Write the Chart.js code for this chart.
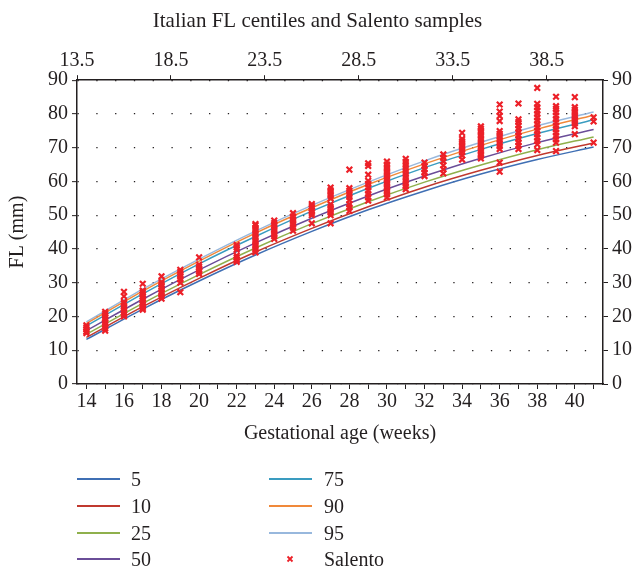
<!DOCTYPE html>
<html><head><meta charset="utf-8">
<script src="https://cdn.jsdelivr.net/npm/chart.js@4.4.1/dist/chart.umd.min.js"></script>
<style>
html,body{margin:0;padding:0;background:#fff;}
#wrap{position:relative;width:635px;height:567px;font-family:"Liberation Serif","Times New Roman",serif;color:#231f20;}
#c{position:absolute;left:0;top:0;}
.lt{position:absolute;font-size:20px;line-height:24px;height:24px;white-space:nowrap;}
.ln{position:absolute;height:0;border-top-style:solid;border-top-width:2px;}
.mk{position:absolute;}
</style></head><body>
<div id="wrap"><canvas id="c" width="635" height="567"></canvas><div id="legend"></div></div>
<script>
// ---- data ----
const centileWeeks = [14, 17, 20, 23, 26, 29, 32, 35, 38, 41];
const p5  = [13.2, 22.2, 30.5, 38.2, 45.2, 51.6, 57.2, 62.2, 66.5, 70.2];
const p10 = [13.8, 22.9, 31.3, 39.1, 46.1, 52.5, 58.3, 63.3, 67.7, 71.4];
const p25 = [14.7, 23.9, 32.4, 40.3, 47.5, 54.0, 59.8, 64.9, 69.4, 73.2];
const p50 = [15.8, 25.1, 33.8, 41.8, 49.1, 55.7, 61.6, 66.9, 71.5, 75.4];
const p75 = [17.2, 26.7, 35.6, 43.7, 51.2, 58.0, 64.1, 69.5, 74.2, 78.3];
const p90 = [17.9, 27.5, 36.4, 44.7, 52.2, 59.1, 65.2, 70.7, 75.5, 79.6];
const p95 = [18.4, 28.1, 37.0, 45.3, 52.9, 59.8, 66.1, 71.6, 76.5, 80.6];

const centileLabels = ['5', '10', '25', '50', '75', '90', '95'];
const centileColors = ['#3f6fb4', '#c0392f', '#8fb04c', '#6a4d98', '#3a9cc0', '#f0893a', '#98b8dd'];

const salentoWeeks = [14, 15, 16, 17, 18, 19, 20, 22, 23, 24, 25, 26, 27, 28, 29, 30, 31, 32, 33, 34, 35, 36, 37, 38, 39, 40, 41];
const salentoFL = [
  [15.1, 15.6, 16.2, 16.8, 17.4],
  [15.8, 16.5, 17.5, 18.2, 19.0, 19.6, 20.2, 20.8, 21.4],
  [20.0, 20.6, 21.2, 21.8, 22.5, 23.1, 23.8, 24.3, 26.0, 27.3],
  [22.0, 22.5, 23.0, 23.6, 24.2, 24.8, 25.4, 26.0, 26.6, 27.2, 27.7, 29.7],
  [25.3, 26.0, 26.8, 27.5, 28.3, 29.0, 29.6, 30.2, 31.9],
  [27.2, 30.0, 31.0, 31.8, 32.5, 33.2, 33.8],
  [32.6, 33.3, 34.0, 34.7, 35.4, 37.5],
  [36.2, 36.8, 37.4, 38.0, 39.8, 40.5, 41.2],
  [39.0, 39.8, 40.6, 41.4, 42.2, 43.0, 43.8, 44.6, 45.4, 46.2, 47.0, 47.4],
  [43.0, 43.8, 44.6, 45.4, 46.2, 47.0, 47.7, 48.4],
  [45.4, 46.3, 47.2, 48.0, 48.8, 49.6, 50.6],
  [47.6, 50.0, 50.7, 51.4, 52.1, 52.7, 53.3],
  [47.6, 50.0, 50.8, 51.6, 52.4, 53.2, 55.0, 55.8, 56.6, 57.4, 58.2],
  [51.3, 52.3, 53.2, 54.5, 55.4, 56.3, 57.2, 58.0, 63.5],
  [54.3, 55.3, 56.3, 57.3, 58.3, 59.3, 60.2, 62.0, 64.6, 65.4],
  [55.3, 56.2, 57.0, 57.8, 58.6, 59.4, 60.2, 61.0, 61.8, 62.6, 63.4, 64.2, 65.0, 65.9],
  [57.7, 58.6, 59.5, 60.4, 61.3, 62.2, 63.1, 64.0, 64.9, 65.8, 66.7],
  [61.6, 62.6, 63.6, 64.6, 65.6],
  [62.4, 63.6, 64.8, 66.0, 67.0, 68.0],
  [66.5, 67.7, 68.7, 69.5, 70.3, 71.1, 71.9, 72.6, 74.4],
  [66.8, 67.6, 68.4, 69.2, 70.0, 70.8, 71.6, 72.4, 73.2, 74.0, 74.8, 75.6, 76.3],
  [62.9, 65.6, 69.6, 70.5, 71.4, 72.3, 73.2, 74.1, 74.9, 77.9, 79.4, 80.7, 82.8],
  [69.6, 70.6, 71.6, 72.6, 73.6, 74.6, 75.6, 76.6, 77.6, 78.4, 83.1],
  [69.3, 71.0, 72.0, 73.0, 74.0, 75.0, 76.0, 77.0, 78.0, 79.0, 80.0, 81.0, 82.0, 83.0, 87.7],
  [69.0, 71.5, 72.5, 73.5, 74.5, 75.5, 76.5, 77.5, 78.5, 79.5, 80.5, 81.5, 82.3, 85.1],
  [74.0, 76.4, 77.2, 78.0, 78.8, 79.6, 80.4, 81.2, 82.0, 85.0],
  [71.5, 77.8, 79.0]
];

const bottomTicks = [14, 15, 16, 17, 18, 19, 20, 21, 22, 23, 24, 25, 26, 27, 28, 29, 30, 31, 32, 33, 34, 35, 36, 37, 38, 39, 40, 41];
const topTicks = [13.5, 18.5, 23.5, 28.5, 33.5, 38.5];
const yTicks = [0, 10, 20, 30, 40, 50, 60, 70, 80, 90];

// ---- chart ----
const INK = '#231f20';
const FAMILY = '"Liberation Serif", "Times New Roman", serif';
Chart.defaults.font.family = FAMILY;
Chart.defaults.font.size = 20;
Chart.defaults.color = INK;
const FONT = {family: FAMILY, size: 20, weight: 'normal'};
const centileSeries = [p5, p10, p25, p50, p75, p90, p95];

const datasets = [{
  label: 'Salento',
  data: salentoWeeks.flatMap((w, i) => salentoFL[i].map(v => ({x: w, y: v}))),
  showLine: false,
  pointStyle: 'crossRot',
  pointRadius: 4,
  pointBorderWidth: 2.2,
  borderColor: '#ec2028',
  backgroundColor: '#ec2028',
  order: 0
}];
centileSeries.forEach((s, i) => datasets.push({
  label: centileLabels[i],
  data: centileWeeks.map((w, j) => ({x: w, y: s[j]})),
  showLine: true,
  borderColor: centileColors[i],
  backgroundColor: centileColors[i],
  borderWidth: 1.5,
  pointRadius: 0,
  cubicInterpolationMode: 'monotone',
  order: 1
}));

new Chart(document.getElementById('c'), {
  type: 'scatter',
  data: {datasets},
  options: {
    responsive: false,
    animation: false,
    events: [],
    layout: {padding: {left: 0, right: 0, top: 0, bottom: 121}},
    plugins: {
      legend: {display: false},
      tooltip: {enabled: false},
      title: {display: true, text: 'Italian FL centiles and Salento samples', color: INK, font: {family: FAMILY, size: 21, weight: 'normal'}, padding: {top: 9, bottom: 0}}
    },
    scales: {
      x: {
        type: 'linear', position: 'bottom', min: 13.5, max: 41.5,
        afterBuildTicks: s => { s.ticks = bottomTicks.map(v => ({value: v})); },
        afterFit: s => { s.height = 62; },
        ticks: {autoSkip: false, maxRotation: 0, color: INK, font: FONT, padding: 1,
                callback: v => (v % 2 === 0 && v <= 40) ? String(v) : ''},
        grid: {drawOnChartArea: false, tickLength: 5, color: INK, tickWidth: 1},
        border: {color: INK, width: 1.5},
        title: {display: true, text: 'Gestational age (weeks)', color: INK, font: FONT, padding: {top: 0, bottom: 0}}
      },
      xTop: {
        type: 'linear', position: 'top', min: 13.5, max: 41.5,
        afterBuildTicks: s => { s.ticks = topTicks.map(v => ({value: v})); },
        afterFit: s => { s.height = 46; },
        ticks: {autoSkip: false, maxRotation: 0, color: INK, font: FONT, padding: 2,
                callback: v => v.toFixed(1)},
        grid: {drawOnChartArea: false, tickLength: 5, color: INK, tickWidth: 1},
        border: {color: INK, width: 1.5}
      },
      y: {
        type: 'linear', position: 'left', min: 0, max: 90,
        afterBuildTicks: s => { s.ticks = yTicks.map(v => ({value: v})); },
        afterFit: s => { s.width = 77; },
        ticks: {color: INK, font: FONT, padding: 4},
        grid: {drawOnChartArea: true, tickLength: 5, color: INK, lineWidth: 1.3, tickWidth: 1},
        border: {color: INK, width: 1.5, dash: [1.3, 17.49]},
        title: {display: true, text: 'FL (mm)', color: INK, font: FONT, padding: {top: 6, bottom: 0}}
      },
      yRight: {
        type: 'linear', position: 'right', min: 0, max: 90,
        afterBuildTicks: s => { s.ticks = yTicks.map(v => ({value: v})); },
        afterFit: s => { s.width = 32; },
        ticks: {color: INK, font: FONT, padding: 4},
        grid: {drawOnChartArea: false, tickLength: 5, color: INK, tickWidth: 1},
        border: {color: INK, width: 1.5}
      }
    }
  }
});

// ---- legend (two columns, as in the reference) ----
const legend = document.getElementById('legend');
const rowsY = [479, 506, 533, 559];
const legendItems = centileLabels.map((l, i) => ({label: l, color: centileColors[i]})).concat([{label: 'Salento', color: '#ec2028', marker: true}]);
legendItems.forEach((it, i) => {
  const col = i < 4 ? 0 : 1;
  const y = rowsY[i % 4];
  const lineX = col === 0 ? 77 : 269;
  const textX = col === 0 ? 131 : 324;
  if (it.marker) {
    const svg = document.createElementNS('http://www.w3.org/2000/svg', 'svg');
    svg.setAttribute('width', '8'); svg.setAttribute('height', '8');
    svg.setAttribute('class', 'mk');
    svg.style.left = '286px'; svg.style.top = (y - 4) + 'px';
    svg.innerHTML = '<path d="M1.5 1.5 L6.5 6.5 M6.5 1.5 L1.5 6.5" stroke="' + it.color + '" stroke-width="1.8"/>';
    legend.appendChild(svg);
  } else {
    const ln = document.createElement('div');
    ln.className = 'ln';
    ln.style.left = lineX + 'px'; ln.style.top = (y - 1) + 'px'; ln.style.width = '43px';
    ln.style.borderTopColor = it.color;
    legend.appendChild(ln);
  }
  const t = document.createElement('div');
  t.className = 'lt';
  t.textContent = it.label;
  t.style.left = textX + 'px'; t.style.top = (y - 12) + 'px';
  legend.appendChild(t);
});
</script>
</body></html>
